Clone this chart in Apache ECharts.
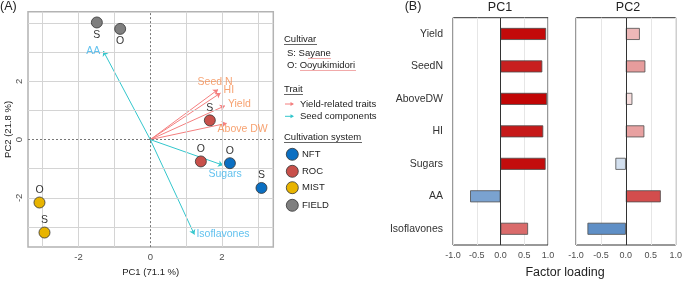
<!DOCTYPE html>
<html>
<head>
<meta charset="utf-8">
<script src="https://cdn.jsdelivr.net/npm/echarts@6/dist/echarts.min.js"></script>
<style>
  html, body { margin: 0; padding: 0; background: #fff; }
  #pca { width: 685px; height: 282px; }
</style>
</head>
<body>
<div id="pca"></div>
<script>
// --- PCA scores (PC1, PC2, cultivar) ---
var nftScores = [[2.22, -0.81, 'O'], [3.10, -1.66, 'S']];
var rocScores = [[1.66, 0.66, 'S'], [1.41, -0.75, 'O']];
var mistScores = [[-3.09, -2.16, 'O'], [-2.95, -3.19, 'S']];
var fieldScores = [[-1.49, 4.02, 'S'], [-0.84, 3.80, 'O']];

// --- loading arrows in the biplot ---
var traitNames = ['Seed N', 'HI', 'Yield', 'Above DW'];
var traitPC1 = [1.89, 1.96, 2.08, 2.13];
var traitPC2 = [1.72, 1.60, 1.16, 0.56];
var seedNames = ['AA', 'Sugars', 'Isoflavones'];
var seedPC1 = [-1.31, 2.03, 1.23];
var seedPC2 = [3.04, -0.88, -3.26];

// --- factor loadings (panel B) ---
var loadingVars = ['Yield', 'SeedN', 'AboveDW', 'HI', 'Sugars', 'AA', 'Isoflavones'];
var pc1Loading = [0.96, 0.88, 0.98, 0.90, 0.95, -0.64, 0.58];
var pc2Loading = [0.28, 0.39, 0.13, 0.37, -0.21, 0.70, -0.77];

// --- tick / grid values ---
var biplotTicks = [-2, 0, 2];
var biplotGridX = [-3, -2, -1, 1, 2, 3];
var biplotGridY = [-3, -2, -1, 1, 2, 3, 4];

var FONT = "'Liberation Sans', Arial, sans-serif";
var traitLine = '#f47f7f', traitText = '#f58b4e';
var seedLine = '#33c6cc', seedText = '#3ab2ea';

// label placement for the arrow names
var arrowLabelPos = {
  'Seed N': { position: 'top', offset: [-3, 1] },
  'HI': { position: 'right', offset: [0, -3] },
  'Yield': { position: 'right', offset: [0, -2] },
  'Above DW': { position: 'bottom', offset: [16, -3] },
  'AA': { position: 'left', offset: [0, 0] },
  'Sugars': { position: 'bottom', offset: [2, 0] },
  'Isoflavones': { position: 'right', offset: [-1, 0] }
};

function arrowSeries(names, xs, ys, lineColor) {
  return {
    type: 'lines', coordinateSystem: 'cartesian2d', xAxisIndex: 0, yAxisIndex: 0, z: 3,
    symbol: ['none', 'arrow'], symbolSize: 5, silent: true,
    lineStyle: { color: lineColor, width: 1, opacity: 1 },
    data: names.map(function (n, i) { return { coords: [[0, 0], [xs[i], ys[i]]] }; })
  };
}

function arrowLabels(names, xs, ys, textColor) {
  return {
    type: 'scatter', xAxisIndex: 0, yAxisIndex: 0, symbolSize: 0, z: 6, silent: true,
    data: names.map(function (n, i) {
      var p = arrowLabelPos[n];
      return {
        value: [xs[i], ys[i]], name: n,
        label: { show: true, formatter: n, position: p.position, offset: p.offset, distance: 3,
                 color: textColor, fontSize: 10.5, fontFamily: FONT }
      };
    })
  };
}

function scoreSeries(name, data, color, labelPos) {
  return {
    type: 'scatter', name: name, xAxisIndex: 0, yAxisIndex: 0, z: 5,
    symbolSize: 11, data: data,
    itemStyle: { color: color, borderColor: '#333', borderWidth: 0.8, opacity: 1 },
    label: { show: true, position: labelPos, distance: 1, formatter: function (p) { return p.value[2]; },
             color: '#333', fontSize: 10.5, fontFamily: FONT }
  };
}

function loadingColor(v) {
  var base = v >= 0 ? [192, 0, 0] : [47, 109, 181];
  var t = Math.min(Math.abs(v), 1);
  var c = base.map(function (b) { return Math.round(255 * (1 - t) + b * t); });
  return 'rgb(' + c.join(',') + ')';
}

function loadingSeries(idx, values) {
  return {
    type: 'bar', xAxisIndex: idx, yAxisIndex: idx, barWidth: 12, data: values,
    itemStyle: { color: function (p) { return loadingColor(p.value); }, borderColor: '#4d4d4d', borderWidth: 0.8 },
    markLine: {
      silent: true, symbol: 'none', label: { show: false },
      lineStyle: { color: '#333', width: 1, type: 'solid' },
      data: [{ xAxis: 0 }]
    }
  };
}

// light grid lines plus dotted zero lines for the biplot
var gridStyle = { color: '#d4d4d4', width: 1, type: 'solid', opacity: 1 };
var zeroStyle = { color: '#777', width: 1, type: [2, 2], opacity: 1 };
var biplotMarks = biplotGridX.map(function (v) { return { xAxis: v, lineStyle: gridStyle }; })
  .concat(biplotGridY.map(function (v) { return { yAxis: v, lineStyle: gridStyle }; }))
  .concat([{ xAxis: 0, lineStyle: zeroStyle }, { yAxis: 0, lineStyle: zeroStyle }]);

function legendArrow(y, color) {
  return [
    { type: 'line', shape: { x1: 285, y1: y, x2: 293, y2: y }, style: { stroke: color, lineWidth: 1 } },
    { type: 'polygon', shape: { points: [[294, y], [290.5, y - 2], [290.5, y + 2]] }, style: { fill: color } }
  ];
}
function legendDot(y, color, label) {
  return [
    { type: 'circle', shape: { cx: 292.3, cy: y, r: 6 }, style: { fill: color, stroke: '#333', lineWidth: 0.8 } },
    { type: 'text', x: 302, y: y, style: { text: label, fill: '#222', font: '9.5px ' + FONT, verticalAlign: 'middle' } }
  ];
}
function txt(x, y, s, size, align, color) {
  return { type: 'text', x: x, y: y, style: { text: s, fill: color || '#222', font: size + 'px ' + FONT,
           align: align || 'left', verticalAlign: 'middle' } };
}
function uline(x1, x2, y, color, w) {
  return { type: 'line', shape: { x1: x1, y1: y, x2: x2, y2: y }, style: { stroke: color || '#222', lineWidth: w || 0.7 } };
}

var graphics = [
  txt(0, 7, '(A)', 12.5), txt(413, 7, '(B)', 12.5, 'center'),
  txt(500, 8, 'PC1', 12.5, 'center'), txt(628, 8, 'PC2', 12.5, 'center'),
  txt(565, 273, 'Factor loading', 12.5, 'center'),
  txt(284, 39.5, 'Cultivar', 9.5), uline(284, 317, 44.5),
  txt(287, 53, 'S: Sayane', 9.5), uline(308, 331, 58.5, '#e87070', 0.6),
  txt(287, 65, 'O: Ooyukimidori', 9.5), uline(300, 356, 70.5, '#e87070', 0.6),
  txt(284, 89.5, 'Trait', 9.5), uline(284, 303, 94.5),
  txt(300, 104, 'Yield-related traits', 9.5), txt(300, 116.3, 'Seed components', 9.5),
  txt(284, 137.5, 'Cultivation system', 9.5), uline(284, 362, 142.5)
].concat(legendArrow(104, traitLine), legendArrow(116.3, seedLine),
  legendDot(154.3, '#0b6fc2', 'NFT'), legendDot(171.3, '#c8504a', 'ROC'),
  legendDot(187.7, '#e8b400', 'MIST'), legendDot(205.3, '#7f7f7f', 'FIELD'));

var myChart = echarts.init(document.getElementById('pca'));

var loadingXAxis = function (idx) {
  return {
    gridIndex: idx, type: 'value', min: -1, max: 1, interval: 0.5,
    axisLine: { show: false }, axisTick: { show: false },
    axisLabel: { color: '#4d4d4d', fontSize: 9, fontFamily: FONT, margin: 6,
                 formatter: function (v) { return v.toFixed(1); } },
    splitLine: { show: true, lineStyle: { color: '#e6e6e6', width: 1 } }
  };
};
var loadingYAxis = function (idx, showLabel) {
  return {
    gridIndex: idx, type: 'category', inverse: true, data: loadingVars,
    axisLine: { show: false, onZero: false }, axisTick: { show: false },
    axisLabel: { show: showLabel, color: '#333', fontSize: 10.5, fontFamily: FONT, margin: 10 },
    splitLine: { show: false }
  };
};

var option = {
  animation: false,
  textStyle: { fontFamily: FONT },
  grid: [
    { left: 28, right: 411.7, top: 11.7, bottom: 31, show: true, borderColor: '#b3b3b3', borderWidth: 1.5 },
    { left: 453, right: 137, top: 17.7, bottom: 37, show: true, borderColor: '#333', borderWidth: 1 },
    { left: 576, right: 3.3, top: 17.7, bottom: 37, show: true, borderColor: '#333', borderWidth: 1 }
  ],
  xAxis: [
    {
      gridIndex: 0, type: 'value', min: -3.41, max: 3.43,
      name: 'PC1 (71.1 %)', nameLocation: 'middle', nameGap: 16,
      nameTextStyle: { color: '#222', fontSize: 9.5, fontFamily: FONT },
      axisLine: { show: false },
      axisTick: { show: true, customValues: biplotTicks, length: 3, lineStyle: { color: '#555' } },
      axisLabel: { customValues: biplotTicks, color: '#4d4d4d', fontSize: 9.5, margin: 5 },
      splitLine: { show: false }
    },
    loadingXAxis(1), loadingXAxis(2)
  ],
  yAxis: [
    {
      gridIndex: 0, type: 'value', min: -3.69, max: 4.39,
      name: 'PC2 (21.8 %)', nameLocation: 'middle', nameGap: 15, nameRotate: 90,
      nameTextStyle: { color: '#222', fontSize: 9.5, fontFamily: FONT },
      axisLine: { show: false },
      axisTick: { show: true, customValues: biplotTicks, length: 3, lineStyle: { color: '#555' } },
      axisLabel: { customValues: biplotTicks, color: '#4d4d4d', fontSize: 9.5, rotate: 90, margin: 4 },
      splitLine: { show: false }
    },
    loadingYAxis(1, true), loadingYAxis(2, false)
  ],
  series: [
    {
      type: 'scatter', xAxisIndex: 0, yAxisIndex: 0, data: [], z: 1, silent: true,
      markLine: { silent: true, symbol: 'none', label: { show: false }, animation: false,
                  lineStyle: { color: '#d4d4d4', width: 1, opacity: 1 },
                  data: biplotMarks }
    },
    arrowSeries(traitNames, traitPC1, traitPC2, traitLine),
    arrowSeries(seedNames, seedPC1, seedPC2, seedLine),
    arrowLabels(traitNames, traitPC1, traitPC2, traitText),
    arrowLabels(seedNames, seedPC1, seedPC2, seedText),
    scoreSeries('NFT', nftScores, '#0b6fc2', 'top'),
    scoreSeries('ROC', rocScores, '#c8504a', 'top'),
    scoreSeries('MIST', mistScores, '#e8b400', 'top'),
    scoreSeries('FIELD', fieldScores, '#7f7f7f', 'bottom'),
    loadingSeries(1, pc1Loading),
    loadingSeries(2, pc2Loading)
  ],
  graphic: graphics
};
option && myChart.setOption(option);
</script>
</body>
</html>
